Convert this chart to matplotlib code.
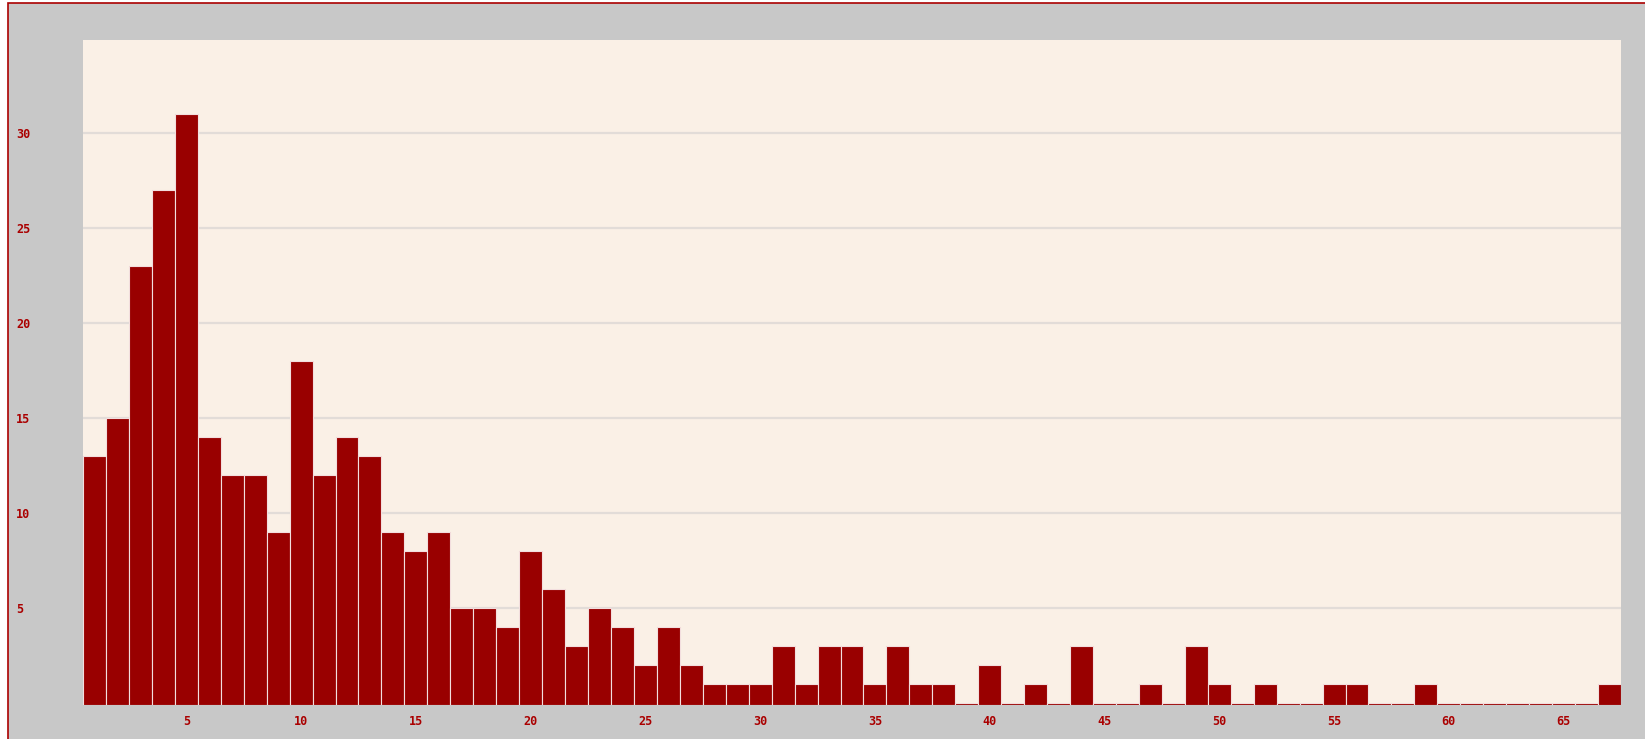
import numpy as np
import matplotlib
matplotlib.use("Agg")
import matplotlib.pyplot as plt
from matplotlib.patches import Rectangle

# counts per bin
bins = np.arange(1, 68)
counts = [13, 15, 23, 27, 31, 14, 12, 12, 9, 18,
          12, 14, 13, 9, 8, 9, 5, 5, 4, 8,
          6, 3, 5, 4, 2, 4, 2, 1, 1, 1,
          3, 1, 3, 3, 1, 3, 1, 1, 0, 2,
          0, 1, 0, 3, 0, 0, 1, 0, 3, 1,
          0, 1, 0, 0, 1, 1, 0, 0, 1, 0,
          0, 0, 0, 0, 0, 0, 1]
x_ticks = [5, 10, 15, 20, 25, 30, 35, 40, 45, 50, 55, 60, 65]
y_ticks = [5, 10, 15, 20, 25, 30]

bar_color = '#990000'
text_color = '#aa0000'
W, H = 1645, 739

fig = plt.figure(figsize=(W / 100, H / 100), dpi=100)
fig.patch.set_facecolor('white')

# gray canvas with thin red border (cropped at right/bottom)
fig.patches.append(Rectangle((8 / W, -0.05), 1.1, 1 - 3 / H + 0.05,
                             transform=fig.transFigure, facecolor='#c8c8c8',
                             edgecolor='#aa0000', linewidth=1.2, zorder=-5))

ax = fig.add_axes([83 / W, 1 - 705 / H, (1621 - 83) / W, (705 - 40) / H])
ax.set_zorder(2)
ax.set_facecolor('#faf0e6')

base = -0.12
ax.bar(bins, np.array(counts) - base, bottom=base, width=1.0,
       color=bar_color, edgecolor='#f3dede', linewidth=0.8, zorder=3)

ax.set_xlim(0.5, 67.5)
ax.set_ylim(base, 34.9)
ax.set_xticks(x_ticks)
ax.set_yticks(y_ticks)
ax.grid(axis='y', color='#e2dcd8', linewidth=1.6, zorder=1)
ax.set_axisbelow(True)
for s in ax.spines.values():
    s.set_visible(False)

ax.tick_params(axis='both', length=0, colors=text_color)
ax.tick_params(axis='x', pad=7.5)
ax.tick_params(axis='y', pad=48)
for lbl in ax.get_xticklabels() + ax.get_yticklabels():
    lbl.set_fontfamily('DejaVu Sans Mono')
    lbl.set_fontweight('bold')
    lbl.set_fontsize(8.5)
for lbl in ax.get_yticklabels():
    lbl.set_horizontalalignment('left')

fig.savefig('out.png', dpi=100, facecolor=fig.get_facecolor())
